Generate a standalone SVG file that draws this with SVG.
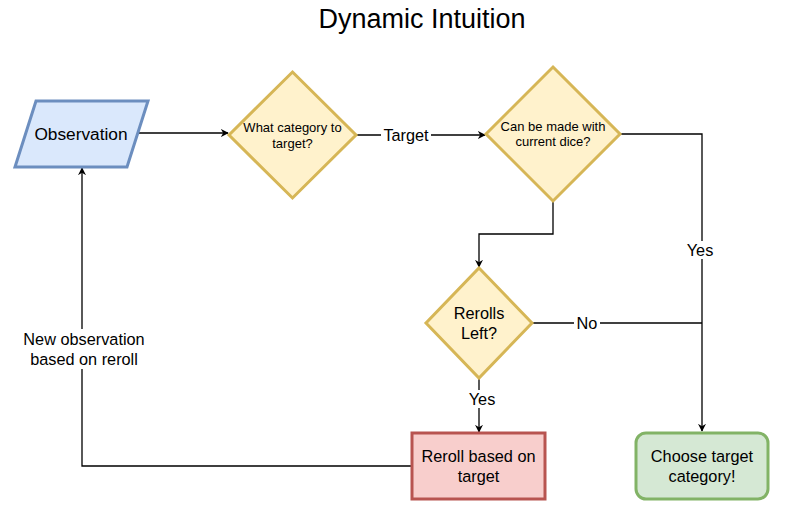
<svg xmlns="http://www.w3.org/2000/svg" width="802" height="518" viewBox="0 0 802 518">
<style>
text{font-family:"Liberation Sans",Arial,sans-serif;fill:#000;text-anchor:middle;dominant-baseline:central}
.dec{fill:#fff2cc;stroke:#d6b656;stroke-width:3}
.edge{fill:none;stroke:#000;stroke-width:1.3}
.lbl{font-size:16.3px}
.bg{fill:#fff}
</style>
<defs>
<marker id="arr" viewBox="0 0 10 10" refX="9" refY="5" markerWidth="8" markerHeight="8" markerUnits="userSpaceOnUse" orient="auto">
<path d="M0,0 L10,5 L0,10 L3,5 Z" fill="#000"/>
</marker>
</defs>
<rect width="802" height="518" fill="#fff"/>
<text x="422" y="19" font-size="27">Dynamic Intuition</text>
<g id="connectors">
<path class="edge" d="M138,133 H228" marker-end="url(#arr)"/>
<path class="edge" d="M356,135 H485" marker-end="url(#arr)"/>
<rect class="bg" x="381" y="126" width="50" height="18"/>
<text class="lbl" x="406" y="135">Target</text>
<path class="edge" d="M620,134 H702 V431" marker-end="url(#arr)"/>
<rect class="bg" x="684" y="241" width="34" height="18"/>
<text class="lbl" x="700" y="250">Yes</text>
<path class="edge" d="M553,202 V234 H479 V267" marker-end="url(#arr)"/>
<path class="edge" d="M532,323 H702"/>
<rect class="bg" x="574" y="314" width="26" height="18"/>
<text class="lbl" x="587" y="323">No</text>
<path class="edge" d="M479,378 V432" marker-end="url(#arr)"/>
<rect class="bg" x="465" y="390" width="34" height="18"/>
<text class="lbl" x="482" y="399">Yes</text>
<path class="edge" d="M412,466 H82 V168" marker-end="url(#arr)"/>
<rect class="bg" x="18" y="329" width="132" height="40"/>
<text class="lbl" x="84" y="339">New observation</text>
<text class="lbl" x="84" y="359">based on reroll</text>
</g>
<g id="observation">
<polygon points="36,101 148,101 127,167 15,167" fill="#dae8fc" stroke="#6c8ebf" stroke-width="3"/>
<text x="81" y="134" font-size="17.3">Observation</text>
</g>
<g id="what-category">
<polygon class="dec" points="292.5,72 356,135 292.5,198 229,135"/>
<text x="292.5" y="127" font-size="13">What category to</text>
<text x="292.5" y="143" font-size="13">target?</text>
</g>
<g id="can-be-made">
<polygon class="dec" points="553,67 620,134 553,201 486,134"/>
<text x="553" y="126" font-size="13">Can be made with</text>
<text x="553" y="141" font-size="13">current dice?</text>
</g>
<g id="rerolls-left">
<polygon class="dec" points="479,268 532,323 479,378 426,323"/>
<text x="479" y="313" font-size="16.3">Rerolls</text>
<text x="479" y="333" font-size="16.3">Left?</text>
</g>
<g id="reroll">
<rect x="412" y="433" width="133" height="66" fill="#f8cecc" stroke="#b85450" stroke-width="3"/>
<text x="478.5" y="456" font-size="16.3">Reroll based on</text>
<text x="478.5" y="476" font-size="16.3">target</text>
</g>
<g id="choose">
<rect x="636" y="433" width="132" height="66" rx="10" fill="#d5e8d4" stroke="#82b366" stroke-width="3"/>
<text x="702" y="456" font-size="16.3">Choose target</text>
<text x="702" y="476" font-size="16.3">category!</text>
</g>
</svg>
